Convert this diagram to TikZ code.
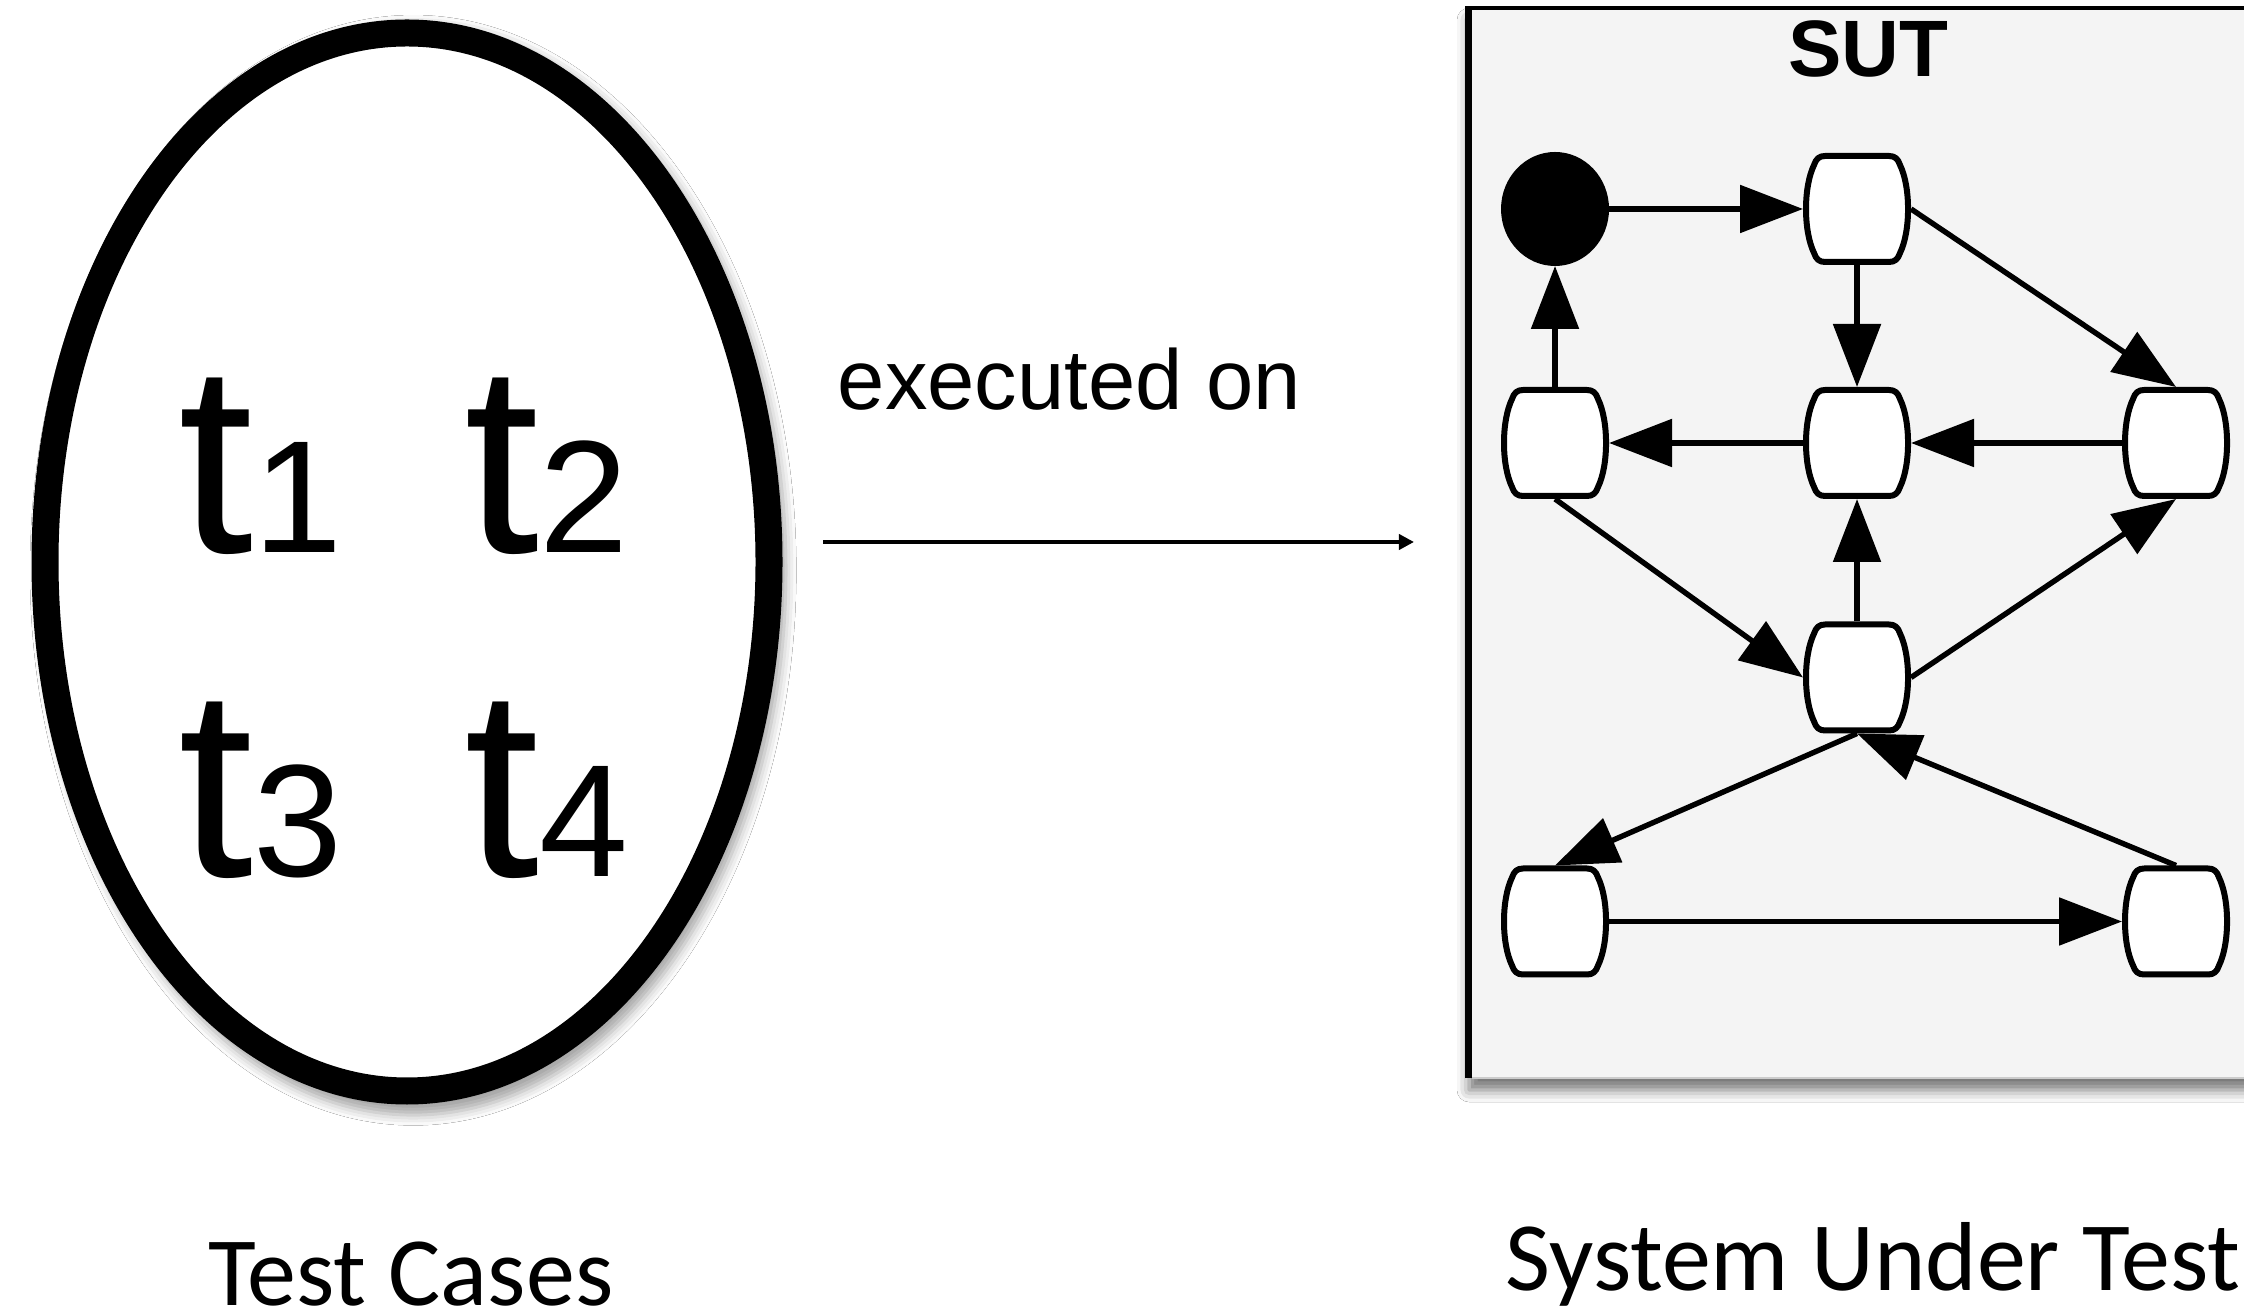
\documentclass[tikz,border=0pt]{standalone}
\usepackage{fontspec}
\setmainfont{Liberation Sans}
\newfontfamily\labelfont{Carlito}
\usetikzlibrary{shapes.geometric,arrows.meta,shadows.blur}
\definecolor{boxgray}{HTML}{F4F4F4}
\begin{document}
\begin{tikzpicture}[x=0.25pt,y=-0.25pt,
  state/.style={rectangle, draw=none, minimum width=27pt, minimum height=28pt,
    inner sep=0pt, outer sep=0pt},
  statebody/.style={draw=black, fill=white, line width=1.5pt, line join=round},
  initstate/.style={ellipse, draw=black, fill=black, line width=1.5pt,
    minimum width=25.5pt, minimum height=27pt, inner sep=0pt},
  trans/.style={draw=black, line width=1.35pt,
    -{Triangle[length=15.75pt,width=11.75pt,fill=black,color=black]}},
  bigt/.style={inner sep=0pt, anchor=base west},
  caption/.style={inner sep=0pt, anchor=base west, text depth=0pt,
    font=\labelfont\fontsize{24.5pt}{28pt}\selectfont},
]
\useasboundingbox (0,0) rectangle (2244,1312);
\clip (0,0) rectangle (2244,1312);
\fill[white] (0,0) rectangle (2244,1312);

% ---- test case pool ----
\node[ellipse, draw=black, fill=white, line width=6.75pt,
  minimum width=181pt, minimum height=264.5pt, inner sep=0pt,
  blur shadow={shadow xshift=1.5pt, shadow yshift=-2pt, shadow scale=1.03,
    shadow blur radius=2.5pt, shadow opacity=35}] (pool) at (407,562) {};

\newcommand{\tcase}[1]{{\fontsize{67.5pt}{70pt}\selectfont t}{\fontsize{40pt}{42pt}\selectfont #1}}
\node[bigt] (t1) at (178,553) {\tcase{1}};
\node[bigt] (t2) at (464,553) {\tcase{2}};
\node[bigt] (t3) at (178,877) {\tcase{3}};
\node[bigt] (t4) at (464,877) {\tcase{4}};

% ---- execution link ----
\node[inner sep=0pt, anchor=base west, font=\fontsize{21.25pt}{24pt}\selectfont] (exec) at (837,410) {executed on};
\coordinate (linkS) at (823,542);
\coordinate (linkE) at (1414,542);
\draw[line width=1.1pt, -{Triangle[length=3.8pt,width=3.8pt]}] (linkS) -- (linkE);

% ---- system under test ----
\fill[boxgray, blur shadow={shadow xshift=0pt, shadow yshift=-3pt,
    shadow blur radius=3pt, shadow opacity=55}] (1469,8) rectangle (2300,1078);
\draw[black!20, line width=0.3pt] (1472,1078) -- (2300,1078);
\draw[line width=1.75pt] (1468.5,1078) -- (1468.5,6);
\draw[line width=1pt] (1466,7.75) -- (2300,7.75);
\node[inner sep=0pt, anchor=base, font=\bfseries\fontsize{20pt}{24pt}\selectfont] (sut) at (1868,77) {SUT};

\node[initstate] (s0) at (1555,209) {};
\node[state] (sA) at (1857,209) {};
\node[state] (sB) at (1555,443) {};
\node[state] (sC) at (1857,443) {};
\node[state] (sD) at (2176,443) {};
\node[state] (sE) at (1857,677.5) {};
\node[state] (sF) at (1555,921.5) {};
\node[state] (sG) at (2176,921.5) {};

% barrel-shaped outline of every state: flat top and bottom,
% rounded corners, sides bowed outwards
\foreach \n in {sA,sB,sC,sD,sE,sF,sG}{
  \begin{scope}[shift={(\n.center)}]
    \draw[statebody] (-32,-53) -- (32,-53)
      .. controls (38,-53) and (41,-50) .. (43,-44)
      .. controls (53.7,-22) and (53.7,22) .. (43,44)
      .. controls (41,50) and (38,53) .. (32,53)
      -- (-32,53)
      .. controls (-38,53) and (-41,50) .. (-43,44)
      .. controls (-53.7,22) and (-53.7,-22) .. (-43,-44)
      .. controls (-41,-50) and (-38,-53) .. (-32,-53) -- cycle;
  \end{scope}
}

\draw[trans] (s0.east) -- (sA.west);
\draw[trans] (sA.south) -- (sC.north);
\draw[trans] (sA.east) -- (sD.north);
\draw[trans] (sD.west) -- (sC.east);
\draw[trans] (sC.west) -- (sB.east);
\draw[trans] (sB.north) -- (s0.south);
\draw[trans] (sB.south) -- (sE.west);
\draw[trans] (sE.north) -- (sC.south);
\draw[trans] (sE.east) -- (sD.south);
\draw[trans] (sE.south) -- (sF.north);
\draw[trans] (sG.north) -- (sE.south);
\draw[trans] (sF.east) -- (sG.west);

% ---- captions ----
\node[caption] (capT) at (208,1305) {Test Cases};
\node[caption] (capS) at (1505,1290) {System Under Test};
\end{tikzpicture}
\end{document}
